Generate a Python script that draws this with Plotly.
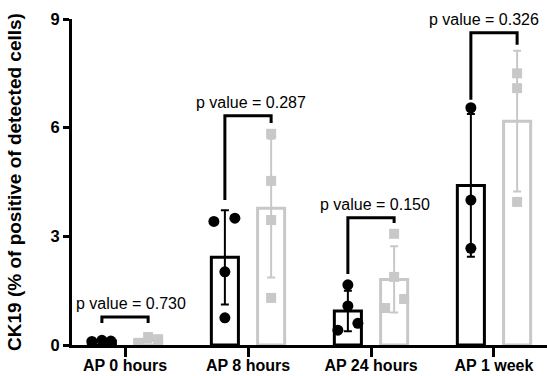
import numpy as np
import plotly.graph_objects as go

# Time points after AP
categories = ["AP 0 hours", "AP 8 hours", "AP 24 hours", "AP 1 week"]

# CK19 (% of positive of detected cells), replicate values per time point
group_black = [
    [0.10, 0.13, 0.11],
    [3.41, 3.50, 2.02, 0.75],
    [1.66, 1.08, 0.41, 0.60],
    [6.55, 4.00, 2.67],
]
group_gray = [
    [0.06, 0.22, 0.16],
    [5.83, 4.53, 3.45, 1.30],
    [3.07, 1.88, 1.02, 1.27],
    [7.50, 7.09, 3.95],
]

# Comparison between the two groups at each time point
p_values = ["0.730", "0.287", "0.150", "0.326"]
bracket_top = [0.77, 6.33, 3.51, 8.62]
bracket_left_end = [0.61, 4.00, 1.96, 6.77]
bracket_right_end = [0.61, 6.13, 3.37, 8.29]

# ---- styling / layout helpers ----
BLACK = "#000000"
GRAY = "#c8c8c8"
FONT = "Liberation Sans, Arial, Helvetica, sans-serif"
PX = 1 / 123.0           # one pixel in x-data units
OFFSET = 0.188           # half distance between paired bars
BAR_W = 0.22

# horizontal scatter of replicate points (pixels)
jitter_black = [[-10, 0, 9], [-11, 10, 0, 0], [0, 0, -10, 10], [0, 0, 0]]
jitter_gray = [[-9, 0, 10], [0, 0, 0, 0], [0, 0, -9, 10], [0, 0, 0]]
# horizontal nudge of the p value labels (pixels)
label_shift = [6, 3, 4, -10]

idx = np.arange(len(categories))

def stats(groups):
    means = [float(np.mean(g)) for g in groups]
    sds = [float(np.std(g, ddof=1)) for g in groups]
    return means, sds

mean_b, sd_b = stats(group_black)
mean_g, sd_g = stats(group_gray)

fig = go.Figure()

for means, sds, color, sign in [(mean_b, sd_b, BLACK, -1), (mean_g, sd_g, GRAY, 1)]:
    fig.add_trace(go.Bar(
        x=idx + sign * OFFSET,
        y=means,
        width=BAR_W,
        marker=dict(color="rgba(255,255,255,0)", line=dict(color=color, width=3)),
        error_y=dict(type="data", array=sds, visible=True, color=color,
                     thickness=2, width=4),
        showlegend=False,
        hoverinfo="skip",
    ))

# significance brackets
for i in range(len(categories)):
    xl, xr = i - OFFSET, i + OFFSET
    fig.add_trace(go.Scatter(
        x=[xl, xl, xr, xr],
        y=[bracket_left_end[i], bracket_top[i], bracket_top[i], bracket_right_end[i]],
        mode="lines",
        line=dict(color=BLACK, width=3),
        showlegend=False,
        hoverinfo="skip",
    ))
    fig.add_annotation(
        x=i + label_shift[i] * PX, y=bracket_top[i],
        text="p value = " + p_values[i],
        showarrow=False, yanchor="bottom", xanchor="center", yshift=3,
        font=dict(family=FONT, size=16, color=BLACK),
    )

# replicate points
for groups, jit, sign, symbol, size, color in [
    (group_black, jitter_black, -1, "circle", 11, BLACK),
    (group_gray, jitter_gray, 1, "square", 10, GRAY),
]:
    xs, ys = [], []
    for i, g in enumerate(groups):
        for v, j in zip(g, jit[i]):
            xs.append(i + sign * OFFSET + j * PX)
            ys.append(v)
    fig.add_trace(go.Scatter(
        x=xs, y=ys, mode="markers",
        marker=dict(symbol=symbol, size=size, color=color, line=dict(width=0)),
        showlegend=False, hoverinfo="skip",
    ))

fig.update_layout(
    width=547, height=376,
    margin=dict(l=72, r=0, t=19, b=31),
    paper_bgcolor="white", plot_bgcolor="white",
    barmode="overlay",
    font=dict(family=FONT, color=BLACK),
)
fig.update_xaxes(
    range=[-0.431, 3.431], automargin=False,
    tickvals=list(idx), ticktext=categories,
    ticks="outside", ticklen=9, tickwidth=3, tickcolor=BLACK,
    ticklabelstandoff=-5,
    showline=True, linewidth=3, linecolor=BLACK,
    showgrid=False, zeroline=False,
    tickfont=dict(family=FONT, size=16, color=BLACK, weight="bold"),
)
fig.update_yaxes(
    range=[0, 9], automargin=False,
    tickvals=[0, 3, 6, 9],
    ticks="outside", ticklen=6, tickwidth=3, tickcolor=BLACK,
    showline=True, linewidth=3, linecolor=BLACK,
    showgrid=False, zeroline=False,
    tickfont=dict(family=FONT, size=16.5, color=BLACK, weight="bold"),
    title=dict(text="CK19 (% of positive of detected cells)", standoff=24,
               font=dict(family=FONT, size=19, color=BLACK, weight="bold")),
)

fig.write_html("out.html")
